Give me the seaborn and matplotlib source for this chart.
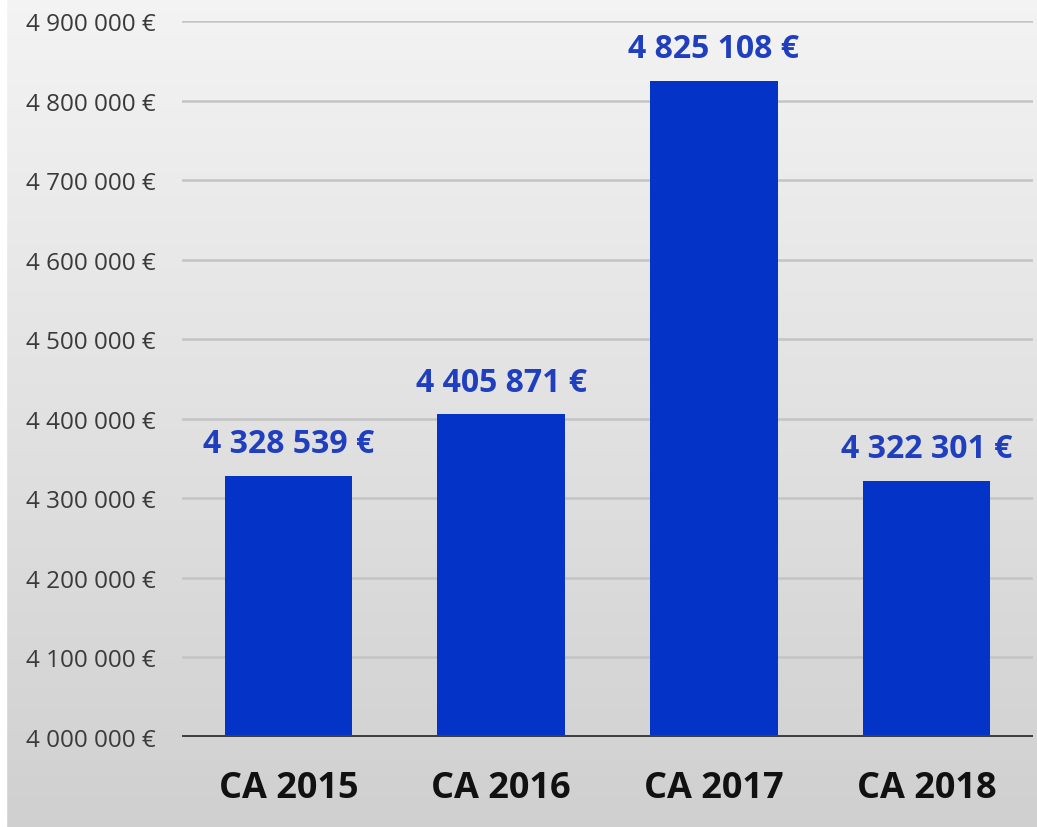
import matplotlib.pyplot as plt
import matplotlib.ticker as mticker
import numpy as np
import pandas as pd
import seaborn as sns

# chart data
categories = ["CA 2015", "CA 2016", "CA 2017", "CA 2018"]
revenue = [4328539, 4405871, 4825108, 4322301]
y_ticks = [4000000, 4100000, 4200000, 4300000, 4400000,
           4500000, 4600000, 4700000, 4800000, 4900000]

df = pd.DataFrame({"annee": categories, "ca": revenue})


def euro(v, pos=None):
    return "{:,.0f} €".format(v).replace(",", " ")


sns.set_theme(style="white")
plt.rcParams["font.family"] = ["Open Sans", "DejaVu Sans"]

fig = plt.figure(figsize=(10.37, 8.28), dpi=100)

# grey gradient background, light at top, darker at bottom
bg = fig.add_axes([0, 0, 1, 1], zorder=-5)
grad = np.linspace(0.955, 0.815, 256).reshape(-1, 1)
bg.imshow(np.dstack([grad, grad, grad]), aspect="auto", extent=[0, 1, 0, 1])
bg.axvspan(0, 0.006, color="white")
bg.set_axis_off()

ax = fig.add_axes([182 / 1037, 1 - 738 / 828, 851 / 1037, (738 - 22) / 828])
ax.patch.set_alpha(0)

sns.barplot(data=df, x="annee", y="ca", color="#0433c8", saturation=1,
            width=0.6, linewidth=0, ax=ax, zorder=3)

ax.set_ylim(4000000, 4900000)
ax.set_xlim(-0.5, 3.5)
ax.set_yticks(y_ticks)
ax.yaxis.set_major_formatter(mticker.FuncFormatter(euro))
ax.grid(axis="y", color="#c4c4c4", linewidth=1.8, zorder=0)
ax.axhline(4000000, color="#404040", linewidth=3.6, zorder=4)
for s in ax.spines.values():
    s.set_visible(False)

ax.set_xlabel("")
ax.set_ylabel("")
ax.tick_params(axis="y", length=0, pad=19, labelsize=17.5, labelcolor="#3a3a3a")
ax.tick_params(axis="x", length=0, pad=24, labelsize=26)
for lbl in ax.get_xticklabels():
    lbl.set_fontweight("bold")
    lbl.set_color("#111111")

for i, v in enumerate(revenue):
    ax.annotate(euro(v), (i, v), xytext=(0, 11), textcoords="offset points",
                ha="center", va="bottom", fontsize=23, fontweight="bold",
                color="#1f3fbf")

fig.savefig("out.png", dpi=100)
